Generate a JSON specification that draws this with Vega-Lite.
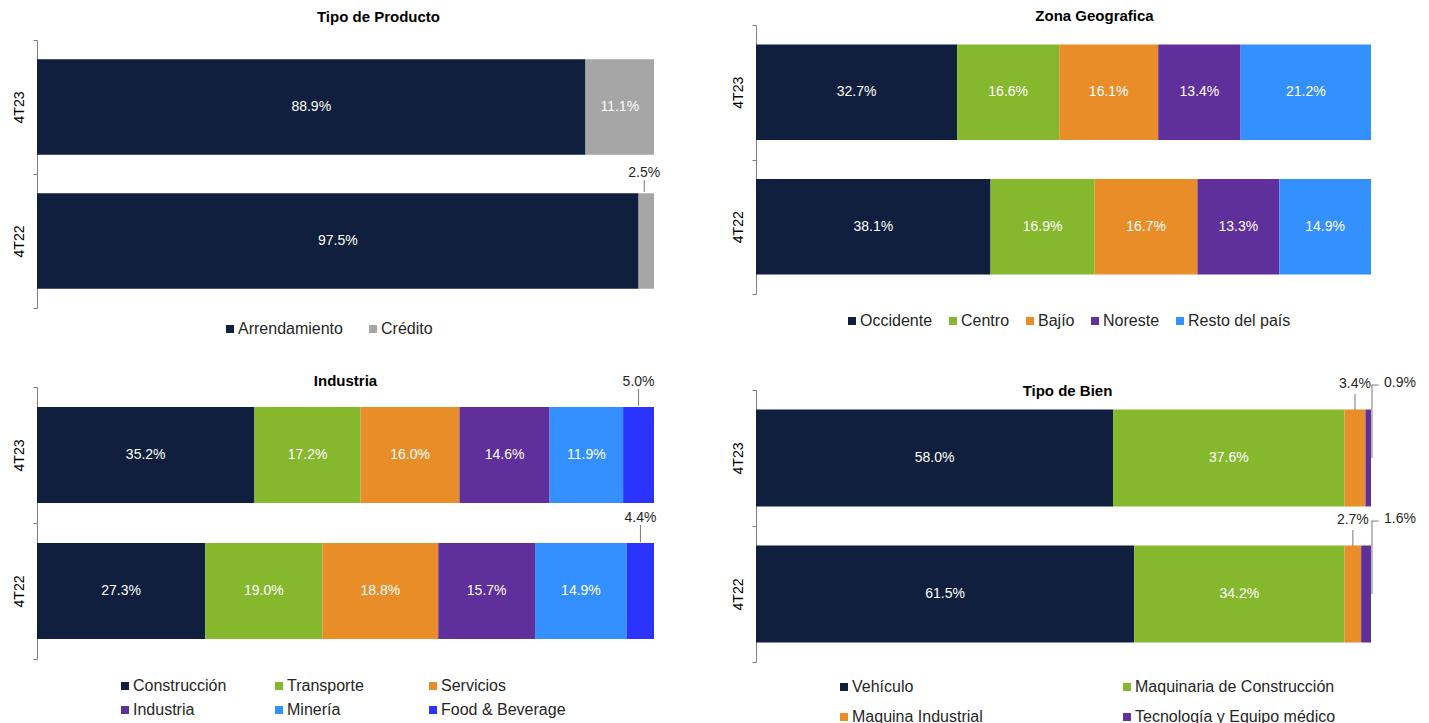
{
  "$schema": "https://vega.github.io/schema/vega-lite/v6.json",
  "background": "white",
  "padding": {"left": 12, "top": 8, "right": 0, "bottom": 0},
  "config": {
    "font": "Liberation Sans",
    "view": {"stroke": null},
    "title": {"fontSize": 15, "fontWeight": "bold", "color": "#000000", "frame": "group", "anchor": "middle"},
    "axisY": {"title": null, "labelAngle": 270, "labelAlign": "center", "labelBaseline": "bottom", "labelFontSize": 14, "labelColor": "#000000", "domainColor": "#808080", "tickColor": "#808080", "tickSize": 4, "tickBand": "extent", "labelPadding": 7, "grid": false},
    "legend": {"title": null, "symbolType": "square", "symbolSize": 64, "labelFontSize": 16, "labelColor": "#262626", "labelLimit": 400, "labelOffset": 0, "direction": "horizontal", "orient": "none", "padding": 0, "symbolStrokeWidth": 0},
    "text": {"font": "Liberation Sans"}
  },
  "datasets": {
    "producto": [
      {"period": "4T23", "cat": "Arrendamiento", "value": 88.9, "ord": 1},
      {"period": "4T23", "cat": "Crédito", "value": 11.1, "ord": 2},
      {"period": "4T22", "cat": "Arrendamiento", "value": 97.5, "ord": 1},
      {"period": "4T22", "cat": "Crédito", "value": 2.5, "ord": 2}
    ],
    "zona": [
      {"period": "4T23", "cat": "Occidente", "value": 32.7, "ord": 1},
      {"period": "4T23", "cat": "Centro", "value": 16.6, "ord": 2},
      {"period": "4T23", "cat": "Bajío", "value": 16.1, "ord": 3},
      {"period": "4T23", "cat": "Noreste", "value": 13.4, "ord": 4},
      {"period": "4T23", "cat": "Resto del país", "value": 21.2, "ord": 5},
      {"period": "4T22", "cat": "Occidente", "value": 38.1, "ord": 1},
      {"period": "4T22", "cat": "Centro", "value": 16.9, "ord": 2},
      {"period": "4T22", "cat": "Bajío", "value": 16.7, "ord": 3},
      {"period": "4T22", "cat": "Noreste", "value": 13.3, "ord": 4},
      {"period": "4T22", "cat": "Resto del país", "value": 14.9, "ord": 5}
    ],
    "industria": [
      {"period": "4T23", "cat": "Construcción", "value": 35.2, "ord": 1},
      {"period": "4T23", "cat": "Transporte", "value": 17.2, "ord": 2},
      {"period": "4T23", "cat": "Servicios", "value": 16.0, "ord": 3},
      {"period": "4T23", "cat": "Industria", "value": 14.6, "ord": 4},
      {"period": "4T23", "cat": "Minería", "value": 11.9, "ord": 5},
      {"period": "4T23", "cat": "Food & Beverage", "value": 5.0, "ord": 6},
      {"period": "4T22", "cat": "Construcción", "value": 27.3, "ord": 1},
      {"period": "4T22", "cat": "Transporte", "value": 19.0, "ord": 2},
      {"period": "4T22", "cat": "Servicios", "value": 18.8, "ord": 3},
      {"period": "4T22", "cat": "Industria", "value": 15.7, "ord": 4},
      {"period": "4T22", "cat": "Minería", "value": 14.9, "ord": 5},
      {"period": "4T22", "cat": "Food & Beverage", "value": 4.4, "ord": 6}
    ],
    "bien": [
      {"period": "4T23", "cat": "Vehículo", "value": 58.0, "ord": 1},
      {"period": "4T23", "cat": "Maquinaria de Construcción", "value": 37.6, "ord": 2},
      {"period": "4T23", "cat": "Maquina Industrial", "value": 3.4, "ord": 3},
      {"period": "4T23", "cat": "Tecnología y Equipo médico", "value": 0.9, "ord": 4},
      {"period": "4T22", "cat": "Vehículo", "value": 61.5, "ord": 1},
      {"period": "4T22", "cat": "Maquinaria de Construcción", "value": 34.2, "ord": 2},
      {"period": "4T22", "cat": "Maquina Industrial", "value": 2.7, "ord": 3},
      {"period": "4T22", "cat": "Tecnología y Equipo médico", "value": 1.6, "ord": 4}
    ]
  },
  "resolve": {"scale": {"color": "independent", "x": "independent", "y": "independent"}, "legend": {"color": "independent"}},
  "spacing": 70,
  "hconcat": [
    {
      "spacing": 36,
      "resolve": {"scale": {"color": "independent", "x": "independent", "y": "independent"}, "legend": {"color": "independent"}},
      "vconcat": [
        {
          "width": 617, "height": 268,
          "title": {"text": "Tipo de Producto", "offset": 15, "dx": 33},
          "data": {"name": "producto"},
          "transform": [
            {"stack": "value", "groupby": ["period"], "sort": [{"field": "ord"}], "offset": "normalize", "as": ["x0", "x1"]},
            {"calculate": "(datum.x0 + datum.x1) / 2", "as": "xm"},
            {"calculate": "format(datum.value, '.1f') + '%'", "as": "label"}
          ],
          "encoding": {
            "y": {"field": "period", "type": "nominal", "sort": ["4T23", "4T22"], "scale": {"paddingInner": 0, "paddingOuter": 0}}
          },
          "layer": [
            {
              "mark": {"type": "bar", "height": {"band": 0.714}},
              "encoding": {
                "x": {"field": "x0", "type": "quantitative", "scale": {"domain": [0, 1], "nice": false}, "axis": null},
                "x2": {"field": "x1"},
                "color": {"field": "cat", "type": "nominal", "scale": {"domain": ["Arrendamiento", "Crédito"], "range": ["#0F1F3D", "#A6A6A6"]},
                  "legend": {"legendX": 185, "legendY": 281, "columnPadding": 22}}
              }
            },
            {
              "transform": [{"filter": "datum.value >= 6"}],
              "mark": {"type": "text", "color": "white", "fontSize": 14},
              "encoding": {"x": {"field": "xm", "type": "quantitative", "axis": null}, "text": {"field": "label"}}
            },
            {
              "transform": [{"filter": "datum.value < 6"}],
              "mark": {"type": "text", "color": "#262626", "fontSize": 14, "dy": -68, "dx": -2},
              "encoding": {"x": {"field": "xm", "type": "quantitative", "axis": null}, "text": {"field": "label"}}
            },
            {
              "transform": [{"filter": "datum.value < 6"}],
              "mark": {"type": "tick", "orient": "vertical", "size": 12, "thickness": 1, "yOffset": -55, "xOffset": -2, "color": "#404040"},
              "encoding": {"x": {"field": "xm", "type": "quantitative", "axis": null}}
            }
          ]
        },
        {
          "width": 617, "height": 272,
          "title": {"text": "Industria", "offset": -13.5, "dx": 0},
          "data": {"name": "industria"},
          "transform": [
            {"stack": "value", "groupby": ["period"], "sort": [{"field": "ord"}], "offset": "normalize", "as": ["x0", "x1"]},
            {"calculate": "(datum.x0 + datum.x1) / 2", "as": "xm"},
            {"calculate": "format(datum.value, '.1f') + '%'", "as": "label"}
          ],
          "encoding": {
            "y": {"field": "period", "type": "nominal", "sort": ["4T23", "4T22"], "scale": {"paddingInner": 0, "paddingOuter": 0}}
          },
          "layer": [
            {
              "mark": {"type": "bar", "height": {"band": 0.706}},
              "encoding": {
                "x": {"field": "x0", "type": "quantitative", "scale": {"domain": [0, 1], "nice": false}, "axis": null},
                "x2": {"field": "x1"},
                "color": {"field": "cat", "type": "nominal", "scale": {"domain": ["Construcción", "Transporte", "Servicios", "Industria", "Minería", "Food & Beverage"], "range": ["#0F1F3D", "#86B82E", "#E98D29", "#5F2F9B", "#3590FF", "#2B33FF"]},
                  "legend": {"legendX": 80, "legendY": 291, "columns": 3, "gridAlign": "all", "columnPadding": 13, "rowPadding": 8}}
              }
            },
            {
              "transform": [{"filter": "datum.value >= 6"}],
              "mark": {"type": "text", "color": "white", "fontSize": 14},
              "encoding": {"x": {"field": "xm", "type": "quantitative", "axis": null}, "text": {"field": "label"}}
            },
            {
              "transform": [{"filter": "datum.value < 6"}],
              "mark": {"type": "text", "color": "#262626", "fontSize": 14, "dy": -73},
              "encoding": {"x": {"field": "xm", "type": "quantitative", "axis": null}, "text": {"field": "label"}}
            },
            {
              "transform": [{"filter": "datum.value < 6"}],
              "mark": {"type": "tick", "orient": "vertical", "size": 17, "thickness": 1, "yOffset": -57.5, "color": "#404040"},
              "encoding": {"x": {"field": "xm", "type": "quantitative", "axis": null}}
            }
          ]
        }
      ]
    },
    {
      "spacing": 47,
      "resolve": {"scale": {"color": "independent", "x": "independent", "y": "independent"}, "legend": {"color": "independent"}},
      "vconcat": [
        {
          "width": 615, "height": 269,
          "title": {"text": "Zona Geografica", "offset": 1, "dx": 31},
          "data": {"name": "zona"},
          "transform": [
            {"stack": "value", "groupby": ["period"], "sort": [{"field": "ord"}], "offset": "normalize", "as": ["x0", "x1"]},
            {"calculate": "(datum.x0 + datum.x1) / 2", "as": "xm"},
            {"calculate": "format(datum.value, '.1f') + '%'", "as": "label"}
          ],
          "encoding": {
            "y": {"field": "period", "type": "nominal", "sort": ["4T23", "4T22"], "scale": {"paddingInner": 0, "paddingOuter": 0, "range": [-15, 254]}}
          },
          "layer": [
            {
              "mark": {"type": "bar", "height": {"band": 0.71}},
              "encoding": {
                "x": {"field": "x0", "type": "quantitative", "scale": {"domain": [0, 1], "nice": false}, "axis": null},
                "x2": {"field": "x1"},
                "color": {"field": "cat", "type": "nominal", "scale": {"domain": ["Occidente", "Centro", "Bajío", "Noreste", "Resto del país"], "range": ["#0F1F3D", "#86B82E", "#E98D29", "#5F2F9B", "#3590FF"]},
                  "legend": {"legendX": 88, "legendY": 273, "columnPadding": 12}}
              }
            },
            {
              "mark": {"type": "text", "color": "white", "fontSize": 14},
              "encoding": {"x": {"field": "xm", "type": "quantitative", "axis": null}, "text": {"field": "label"}}
            }
          ]
        },
        {
          "width": 615, "height": 272,
          "title": {"text": "Tipo de Bien", "offset": -22.5, "dx": 4},
          "data": {"name": "bien"},
          "transform": [
            {"stack": "value", "groupby": ["period"], "sort": [{"field": "ord"}], "offset": "normalize", "as": ["x0", "x1"]},
            {"calculate": "(datum.x0 + datum.x1) / 2", "as": "xm"},
            {"calculate": "format(datum.value, '.1f') + '%'", "as": "label"}
          ],
          "encoding": {
            "y": {"field": "period", "type": "nominal", "sort": ["4T23", "4T22"], "scale": {"paddingInner": 0, "paddingOuter": 0}}
          },
          "layer": [
            {
              "mark": {"type": "bar", "height": {"band": 0.713}},
              "encoding": {
                "x": {"field": "x0", "type": "quantitative", "scale": {"domain": [0, 1], "nice": false}, "axis": null},
                "x2": {"field": "x1"},
                "color": {"field": "cat", "type": "nominal", "scale": {"domain": ["Vehículo", "Maquinaria de Construcción", "Maquina Industrial", "Tecnología y Equipo médico"], "range": ["#0F1F3D", "#86B82E", "#E98D29", "#5F2F9B"]},
                  "legend": {"legendX": 80, "legendY": 289, "columns": 2, "gridAlign": "all", "columnPadding": 66, "rowPadding": 14}}
              }
            },
            {
              "transform": [{"filter": "datum.value >= 6"}],
              "mark": {"type": "text", "color": "white", "fontSize": 14},
              "encoding": {"x": {"field": "xm", "type": "quantitative", "axis": null}, "text": {"field": "label"}}
            },
            {
              "transform": [{"filter": "datum.cat == 'Maquina Industrial'"}],
              "mark": {"type": "text", "color": "#262626", "fontSize": 14, "dy": -74},
              "encoding": {"x": {"field": "xm", "type": "quantitative", "axis": null}, "text": {"field": "label"}}
            },
            {
              "transform": [{"filter": "datum.cat == 'Maquina Industrial'"}],
              "mark": {"type": "tick", "orient": "vertical", "size": 16, "thickness": 1, "yOffset": -56, "color": "#404040"},
              "encoding": {"x": {"field": "xm", "type": "quantitative", "axis": null}}
            },
            {
              "transform": [{"filter": "datum.cat == 'Tecnología y Equipo médico'"}],
              "mark": {"type": "text", "color": "#262626", "fontSize": 14, "dy": -75, "dx": 13, "align": "left"},
              "encoding": {"x": {"field": "x1", "type": "quantitative", "axis": null}, "text": {"field": "label"}}
            },
            {
              "transform": [{"filter": "datum.cat == 'Tecnología y Equipo médico'"}],
              "mark": {"type": "tick", "orient": "vertical", "size": 73, "thickness": 1, "yOffset": -36.5, "xOffset": 1, "color": "#404040"},
              "encoding": {"x": {"field": "x1", "type": "quantitative", "axis": null}}
            },
            {
              "transform": [{"filter": "datum.cat == 'Tecnología y Equipo médico'"}],
              "mark": {"type": "tick", "orient": "horizontal", "size": 7, "thickness": 1, "yOffset": -73, "xOffset": 4, "color": "#404040"},
              "encoding": {"x": {"field": "x1", "type": "quantitative", "axis": null}}
            }
          ]
        }
      ]
    }
  ]
}
